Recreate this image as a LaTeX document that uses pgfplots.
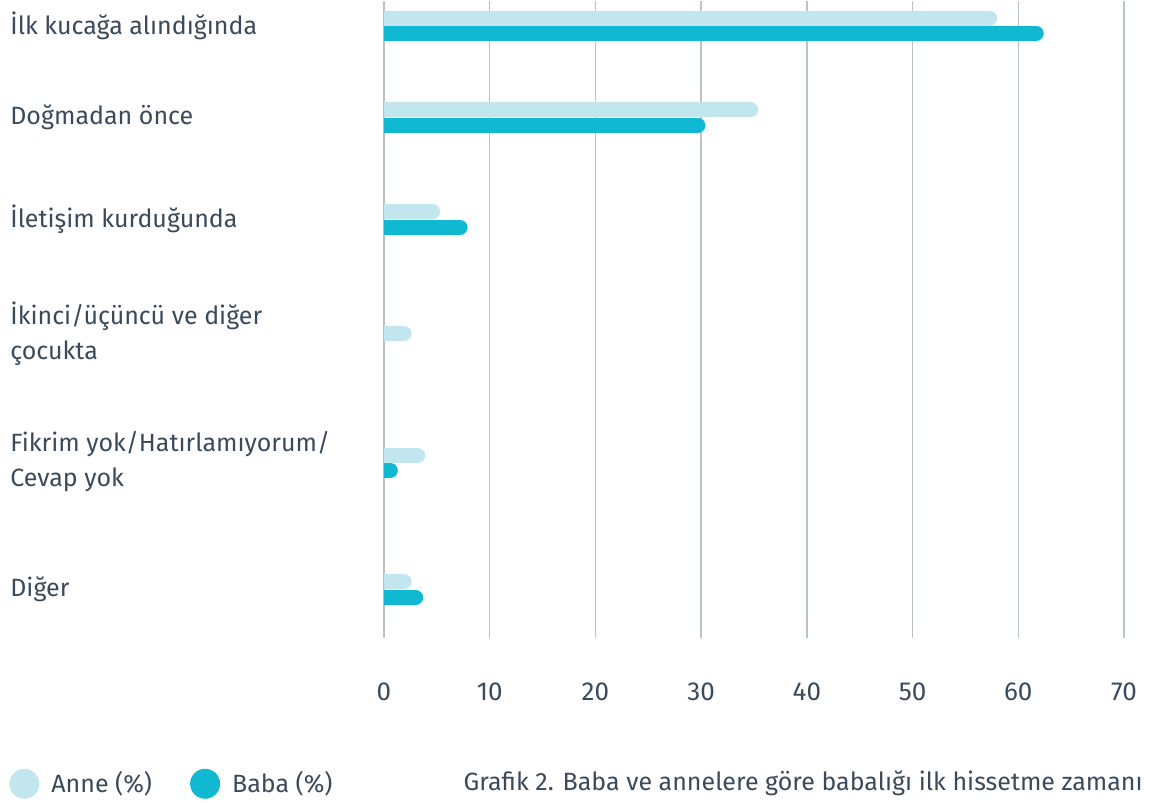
\documentclass[border=0pt]{standalone}
\usepackage{fontspec}
\setmainfont{Fira Sans}
\usepackage{pgfplots}
\pgfplotsset{compat=1.18}
\definecolor{annec}{HTML}{C2E6EE}
\definecolor{babac}{HTML}{10B9D1}
\definecolor{txt}{HTML}{3B4A5A}
\definecolor{gridc}{HTML}{BBC2C8}
\begin{document}
\begin{tikzpicture}
\begin{axis}[
  scale only axis, width=370pt, height=318.5pt,
  xmin=0, xmax=70, ymin=0, ymax=637, y dir=reverse,
  axis line style={draw=none}, tick style={draw=none},
  xmajorgrids, grid style={draw=gridc, line width=0.75pt},
  xtick={0,10,...,70},
  ytick={24.7,116.7,218.5,333,460.5,589},
  yticklabels={İlk kucağa alındığında, Doğmadan önce, İletişim kurduğunda, {İkinci/üçüncü ve diğer\\çocukta}, {Fikrim yok/Hatırlamıyorum/\\Cevap yok}, Diğer},
  yticklabel style={anchor=west, align=left, xshift=-187pt, inner sep=0pt, font=\fontsize{12.5}{17.5}\selectfont, text=txt},
  xticklabel style={yshift=-19pt, font=\fontsize{13}{15}\selectfont, text=txt},
  /pgf/number format/assume math mode=true,
  clip mode=individual,
  legend columns=2,
  legend style={at={(axis description cs:0,0)}, anchor=west, xshift=-187.5pt, yshift=-73pt, draw=none, fill=none, inner sep=0pt, font=\fontsize{12.5}{14}\selectfont, text=txt, /tikz/every even column/.append style={column sep=17pt}},
  legend image code/.code={\fill[draw=none] (7.5pt,0pt) circle (7.5pt); \path[draw=none, fill=none] (0pt,0pt) -- (19pt,0pt);},
]
\addplot[xcomb, color=annec, line width=7.5pt, line cap=round] coordinates {(57.3,17.3) (34.7,109.2) (4.6,210.8) (1.9,333) (3.2,454.5) (1.9,581)};
\addplot[xcomb, color=babac, line width=7.5pt, line cap=round] coordinates {(61.7,32.3) (29.7,124.5) (7.2,226.5) (0.6,470) (3.0,596.7)};
\legend{Anne (\%), Baba (\%)}
\node[anchor=east, inner sep=0pt, font=\fontsize{12.5}{14}\selectfont, text=txt] at ([xshift=9.5pt, yshift=-73pt]axis description cs:1,0) {Grafik 2. Baba ve annelere göre babalığı ilk hissetme zamanı};
\end{axis}
\path[use as bounding box] ([xshift=-192pt]current axis.north west) rectangle ([xshift=14.5pt, yshift=-82.5pt]current axis.south east);
\end{tikzpicture}
\end{document}
